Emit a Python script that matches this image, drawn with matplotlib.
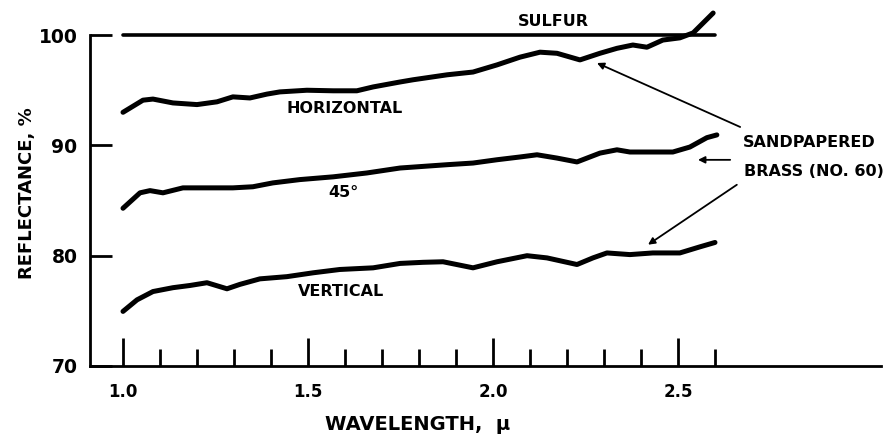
import numpy as np
import matplotlib.pyplot as plt

# reflectance vs wavelength, sandpapered brass against a sulfur standard
sulfur_x = [1.0, 2.6]
sulfur_y = [100.0, 100.0]

horiz_x = [1.0, 1.054, 1.081, 1.135, 1.2, 1.254, 1.297, 1.343, 1.389, 1.424,
           1.497, 1.568, 1.632, 1.676, 1.749, 1.784, 1.876, 1.946, 2.011, 2.073,
           2.127, 2.173, 2.235, 2.289, 2.335, 2.378, 2.416, 2.459, 2.505, 2.541,
           2.568, 2.595]
horiz_y = [93.0, 94.1, 94.2, 93.85, 93.7, 93.95, 94.4, 94.3, 94.65, 94.85,
           95.0, 94.95, 94.95, 95.3, 95.75, 95.95, 96.4, 96.65, 97.3, 98.0,
           98.45, 98.35, 97.75, 98.35, 98.8, 99.1, 98.9, 99.55, 99.75, 100.2,
           101.1, 102.0]

diag_x = [1.0, 1.046, 1.073, 1.108, 1.162, 1.227, 1.297, 1.351, 1.405, 1.478,
          1.568, 1.659, 1.749, 1.876, 1.946, 2.011, 2.073, 2.119, 2.173, 2.227,
          2.289, 2.335, 2.37, 2.424, 2.486, 2.532, 2.578, 2.605]
diag_y = [84.3, 85.7, 85.9, 85.7, 86.15, 86.15, 86.15, 86.25, 86.6, 86.9,
          87.15, 87.5, 87.95, 88.25, 88.4, 88.7, 88.95, 89.15, 88.85, 88.5,
          89.3, 89.6, 89.4, 89.4, 89.4, 89.85, 90.7, 90.95]

vert_x = [1.0, 1.038, 1.081, 1.135, 1.181, 1.227, 1.281, 1.316, 1.37, 1.443,
          1.514, 1.586, 1.676, 1.749, 1.811, 1.865, 1.946, 2.011, 2.092, 2.146,
          2.227, 2.27, 2.308, 2.37, 2.432, 2.505, 2.559, 2.6]
vert_y = [74.95, 76.0, 76.75, 77.1, 77.3, 77.55, 77.0, 77.4, 77.9, 78.1,
          78.45, 78.75, 78.9, 79.3, 79.4, 79.45, 78.9, 79.45, 80.0, 79.8,
          79.2, 79.8, 80.25, 80.1, 80.25, 80.25, 80.8, 81.2]

xticks_major = [1.0, 1.5, 2.0, 2.5]
xticks_minor = [1.1, 1.2, 1.3, 1.4, 1.6, 1.7, 1.8, 1.9, 2.1, 2.2, 2.3, 2.4, 2.6]
yticks = [70, 80, 90, 100]

plt.rcParams['font.family'] = ['DejaVu Sans']
plt.rcParams['font.weight'] = 'bold'

fig = plt.figure(figsize=(8.88, 4.38), dpi=100)
ax = fig.add_axes([90 / 888, 1 - 366 / 438, 791 / 888, 364 / 438])

lw = 3.6
ax.plot(sulfur_x, sulfur_y, color='black', lw=2.6, solid_capstyle='round')
for xs, ys in [(horiz_x, horiz_y), (diag_x, diag_y), (vert_x, vert_y)]:
    ax.plot(xs, ys, color='black', lw=lw, solid_capstyle='round',
            solid_joinstyle='round')

ax.set_xlim(1.0 - 33 / 370, 1.0 + 758 / 370)
ax.set_ylim(70, 103)

ax.spines['top'].set_visible(False)
ax.spines['right'].set_visible(False)
ax.spines['left'].set_bounds(70, 100)
ax.spines['left'].set_linewidth(2)
ax.spines['bottom'].set_linewidth(2)

ax.set_xticks(xticks_major)
ax.set_xticks(xticks_minor, minor=True)
ax.set_xticklabels(['%.1f' % v for v in xticks_major])
ax.set_yticks(yticks)
ax.tick_params(axis='x', which='major', direction='in', length=20, width=2,
               pad=12, labelsize=12)
ax.tick_params(axis='x', which='minor', direction='in', length=12, width=2)
ax.tick_params(axis='y', direction='in', length=16, width=2, pad=9,
               labelsize=13.5)
for lab in ax.get_xticklabels() + ax.get_yticklabels():
    lab.set_fontweight('bold')

fig.text(27 / 888, 1 - 193 / 438, 'REFLECTANCE, %', rotation=90,
         ha='center', va='center', fontsize=13, fontweight='bold')
fig.text(418 / 888, 1 - 425 / 438, 'WAVELENGTH,  \u03bc', ha='center',
         va='center', fontsize=14, fontweight='bold')

tkw = dict(ha='center', va='center', fontsize=11.5, fontweight='bold')
ax.text(2.162, 101.27, 'SULFUR', **tkw)
ax.text(1.6, 93.39, 'HORIZONTAL', **tkw)
ax.text(1.597, 85.7, '45\u00b0', **tkw)
ax.text(1.589, 76.74, 'VERTICAL', **tkw)
ax.text(2.854, 90.23, 'SANDPAPERED', **tkw)
ax.text(2.868, 87.6, 'BRASS (NO. 60)', **tkw)

akw = dict(arrowstyle='-|>', lw=1.3, color='black', mutation_scale=10,
           shrinkA=0, shrinkB=0)
ax.annotate('', xy=(2.281, 97.47), xytext=(2.668, 91.67), arrowprops=akw)
ax.annotate('', xy=(2.554, 88.69), xytext=(2.641, 88.69), arrowprops=akw)
ax.annotate('', xy=(2.419, 81.0), xytext=(2.659, 86.43), arrowprops=akw)

fig.savefig('out.png', dpi=100)
